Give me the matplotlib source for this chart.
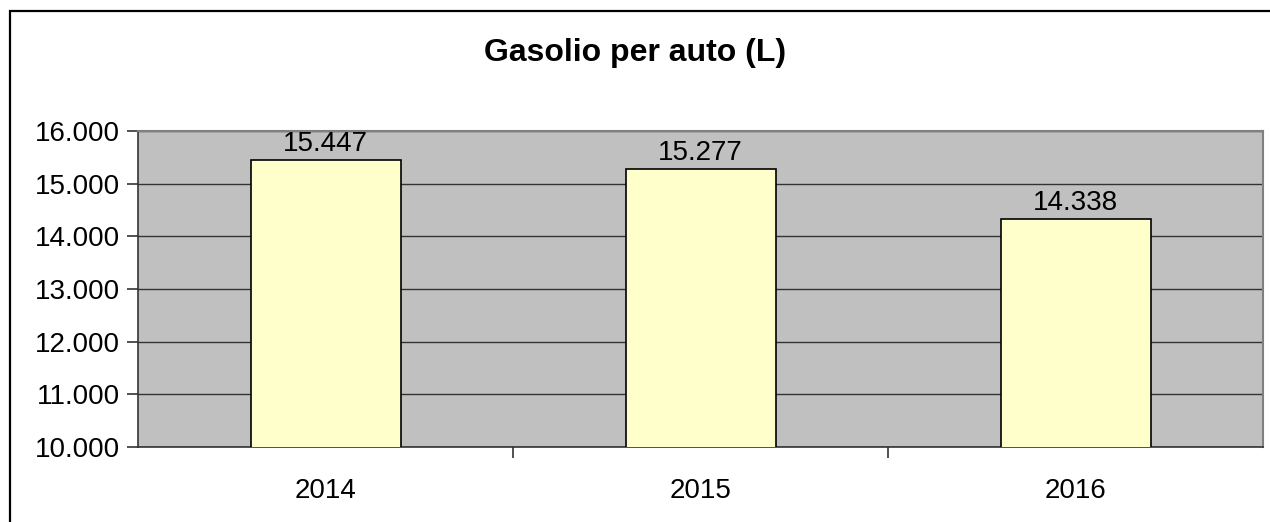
import matplotlib.pyplot as plt
from matplotlib.patches import Rectangle
from matplotlib.ticker import FuncFormatter

years = ['2014', '2015', '2016']
litres = [15447, 15277, 14338]
y_ticks = [10000, 11000, 12000, 13000, 14000, 15000, 16000]


def it_fmt(v, pos=None):
    # Italian thousands separator
    return f'{int(round(v)):,}'.replace(',', '.')


plt.rcParams['font.family'] = ['Liberation Sans', 'DejaVu Sans']

W, H = 1270, 522
fig = plt.figure(figsize=(W / 100, H / 100), dpi=100)

# outer chart border (cropped on right/bottom)
fig.patches.append(Rectangle((10 / W, -0.05), 1.2, 1 - 11 / H + 0.05, transform=fig.transFigure,
                             fill=False, edgecolor='black', linewidth=1.6))

ax = fig.add_axes([138 / W, 1 - 447 / H, (1263 - 138) / W, (447 - 131) / H])
ax.set_facecolor('#C0C0C0')

x = list(range(len(years)))
ax.set_axisbelow(True)
ax.yaxis.grid(True, color='#333333', linewidth=1.0)
bars = ax.bar(x, litres, width=0.4, color='#FFFFCC', edgecolor='black', linewidth=1.2, zorder=3)

for xi, v in zip(x, litres):
    ax.text(xi, v + 50, it_fmt(v), ha='center', va='bottom', fontsize=20, zorder=4)

ax.set_xlim(-0.5, len(years) - 0.5)
ax.set_ylim(10000, 16000)
ax.set_yticks(y_ticks)
ax.yaxis.set_major_formatter(FuncFormatter(it_fmt))
ax.set_xticks(x)
ax.set_xticklabels(years)
ax.set_xticks([0.5, 1.5], minor=True)
ax.tick_params(axis='x', which='major', length=0, pad=22, labelsize=20)
ax.tick_params(axis='x', which='minor', length=8, direction='out', color='#333333', width=1.2)
ax.tick_params(axis='y', length=8, direction='out', color='#333333', width=1.2, labelsize=20, pad=5)

for side in ['top', 'right']:
    ax.spines[side].set_color('#808080')
    ax.spines[side].set_linewidth(1.5)
for side in ['left', 'bottom']:
    ax.spines[side].set_color('#333333')
    ax.spines[side].set_linewidth(1.2)

fig.text(0.5, 1 - 53 / H, 'Gasolio per auto (L)', ha='center', va='center',
         fontsize=23, fontweight='bold')

fig.savefig('out.png', dpi=100)
